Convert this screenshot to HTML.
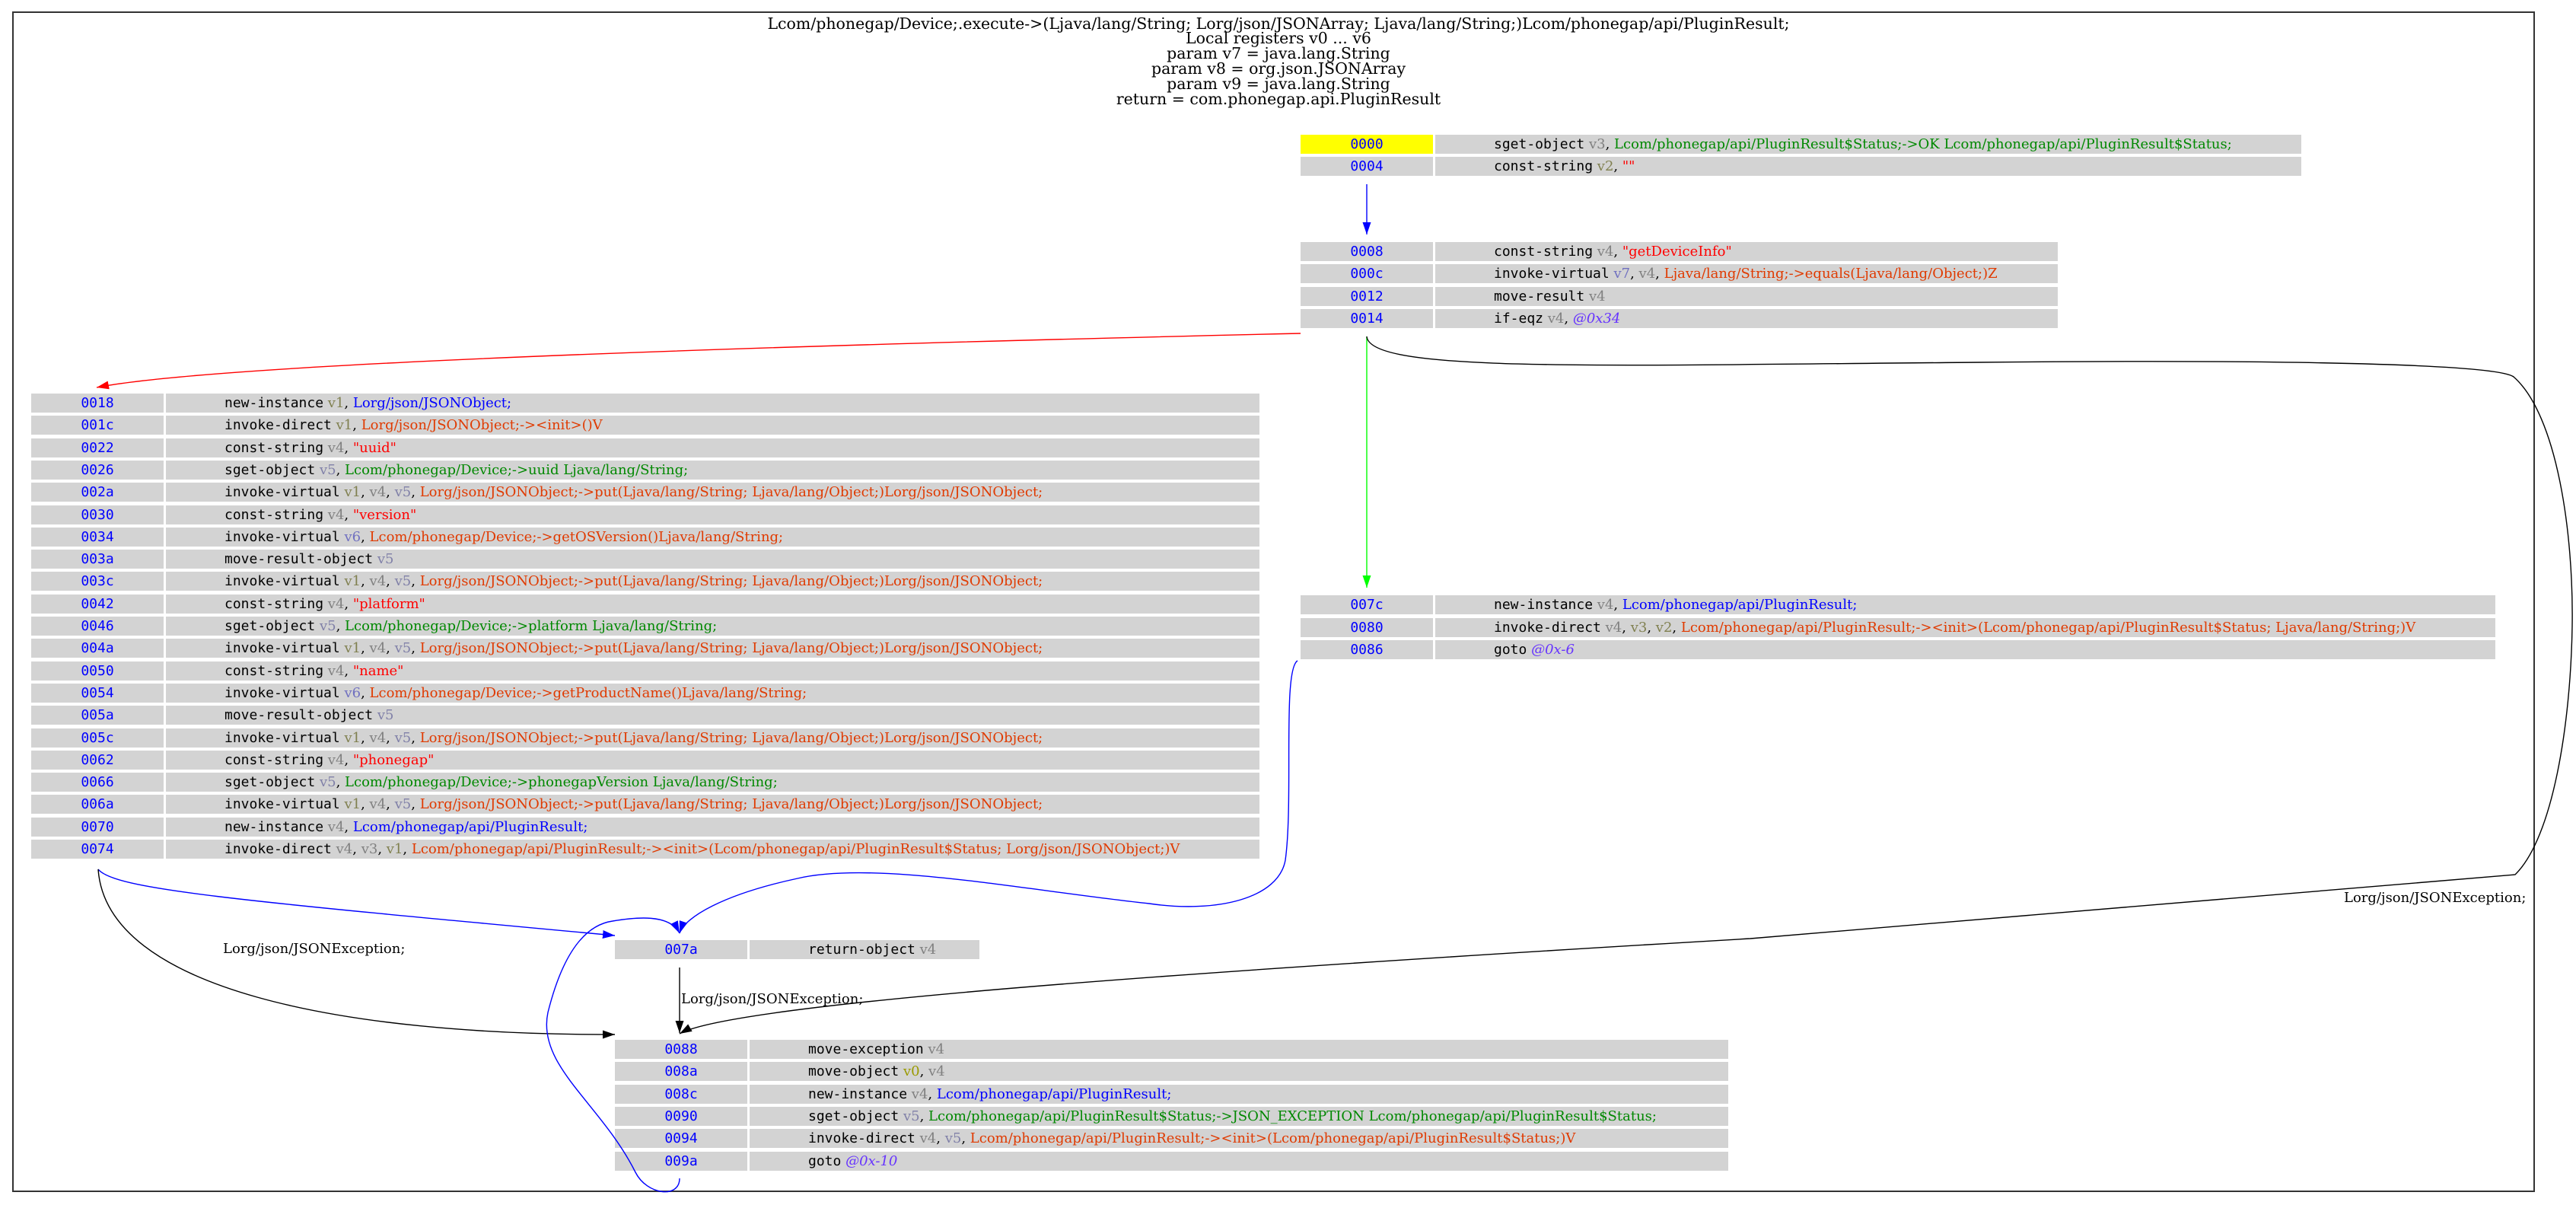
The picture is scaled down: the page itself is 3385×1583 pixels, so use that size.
<!DOCTYPE html>
<html><head><meta charset="utf-8"><style>
body{margin:0;width:3385px;height:1583px;background:#fff;position:relative;overflow:hidden}
.t{position:absolute;left:0;width:3360px;text-align:center;font:20.5px/20px "DejaVu Serif","Liberation Serif",serif;color:#000;white-space:nowrap}
.r{position:absolute;height:25px;font:18px/25px "DejaVu Serif",serif;white-space:nowrap}
.a{position:absolute;top:0;height:25px;width:174px;background:#d3d3d3;color:#00f;text-align:center;font-family:"DejaVu Sans Mono",monospace}
.c{position:absolute;top:0;height:25px;left:177px;background:#d3d3d3;padding-left:77px;box-sizing:border-box;overflow:hidden}
.m{font-family:"DejaVu Sans Mono",monospace;color:#000}
.g{color:#808080}.o{color:#808050}.y{color:#9a9a00}.s{color:#8080a8}.p{color:#7070c0}
.G{color:#008800}.O{color:#e03a00}.R{color:#ff0000}.B{color:#0000ff}.L{color:#6633ff;font-style:italic}
.lb{position:absolute;font:18px/20px "DejaVu Serif",serif;white-space:nowrap}
</style></head><body>
<div style="position:absolute;left:16px;top:15px;width:3315px;height:1551px;border:2px solid #333;box-sizing:border-box"></div>
<div class="t" style="top:21px">Lcom/phonegap/Device;.execute-&gt;(Ljava/lang/String; Lorg/json/JSONArray; Ljava/lang/String;)Lcom/phonegap/api/PluginResult;</div>
<div class="t" style="top:40px">Local registers v0 ... v6</div>
<div class="t" style="top:60px">param v7 = java.lang.String</div>
<div class="t" style="top:80px">param v8 = org.json.JSONArray</div>
<div class="t" style="top:100px">param v9 = java.lang.String</div>
<div class="t" style="top:120px">return = com.phonegap.api.PluginResult</div>

<!-- Block A -->
<div class="r" style="left:1709px;top:177px"><div class="a" style="background:#ff0">0000</div><div class="c" style="width:1138px"><span class="m">sget-object</span> <span class="g">v3</span>, <span class="G">Lcom/phonegap/api/PluginResult$Status;-&gt;OK Lcom/phonegap/api/PluginResult$Status;</span></div></div>
<div class="r" style="left:1709px;top:206px"><div class="a">0004</div><div class="c" style="width:1138px"><span class="m">const-string</span> <span class="o">v2</span>, <span class="R">""</span></div></div>

<!-- Block B -->
<div class="r" style="left:1709px;top:318px"><div class="a">0008</div><div class="c" style="width:818px"><span class="m">const-string</span> <span class="g">v4</span>, <span class="R">"getDeviceInfo"</span></div></div>
<div class="r" style="left:1709px;top:347px"><div class="a">000c</div><div class="c" style="width:818px"><span class="m">invoke-virtual</span> <span class="p">v7</span>, <span class="g">v4</span>, <span class="O">Ljava/lang/String;-&gt;equals(Ljava/lang/Object;)Z</span></div></div>
<div class="r" style="left:1709px;top:377px"><div class="a">0012</div><div class="c" style="width:818px"><span class="m">move-result</span> <span class="g">v4</span></div></div>
<div class="r" style="left:1709px;top:406px"><div class="a">0014</div><div class="c" style="width:818px"><span class="m">if-eqz</span> <span class="g">v4</span>, <span class="L">@0x34</span></div></div>

<!-- Block C -->
<div style="position:absolute;left:41px;top:517px">
<div class="r" style="top:0px"><div class="a">0018</div><div class="c" style="width:1437px"><span class="m">new-instance</span> <span class="o">v1</span>, <span class="B">Lorg/json/JSONObject;</span></div></div>
<div class="r" style="top:29.3px"><div class="a">001c</div><div class="c" style="width:1437px"><span class="m">invoke-direct</span> <span class="o">v1</span>, <span class="O">Lorg/json/JSONObject;-&gt;&lt;init&gt;()V</span></div></div>
<div class="r" style="top:58.6px"><div class="a">0022</div><div class="c" style="width:1437px"><span class="m">const-string</span> <span class="g">v4</span>, <span class="R">"uuid"</span></div></div>
<div class="r" style="top:87.9px"><div class="a">0026</div><div class="c" style="width:1437px"><span class="m">sget-object</span> <span class="s">v5</span>, <span class="G">Lcom/phonegap/Device;-&gt;uuid Ljava/lang/String;</span></div></div>
<div class="r" style="top:117.2px"><div class="a">002a</div><div class="c" style="width:1437px"><span class="m">invoke-virtual</span> <span class="o">v1</span>, <span class="g">v4</span>, <span class="s">v5</span>, <span class="O">Lorg/json/JSONObject;-&gt;put(Ljava/lang/String; Ljava/lang/Object;)Lorg/json/JSONObject;</span></div></div>
<div class="r" style="top:146.5px"><div class="a">0030</div><div class="c" style="width:1437px"><span class="m">const-string</span> <span class="g">v4</span>, <span class="R">"version"</span></div></div>
<div class="r" style="top:175.8px"><div class="a">0034</div><div class="c" style="width:1437px"><span class="m">invoke-virtual</span> <span class="p">v6</span>, <span class="O">Lcom/phonegap/Device;-&gt;getOSVersion()Ljava/lang/String;</span></div></div>
<div class="r" style="top:205.1px"><div class="a">003a</div><div class="c" style="width:1437px"><span class="m">move-result-object</span> <span class="s">v5</span></div></div>
<div class="r" style="top:234.4px"><div class="a">003c</div><div class="c" style="width:1437px"><span class="m">invoke-virtual</span> <span class="o">v1</span>, <span class="g">v4</span>, <span class="s">v5</span>, <span class="O">Lorg/json/JSONObject;-&gt;put(Ljava/lang/String; Ljava/lang/Object;)Lorg/json/JSONObject;</span></div></div>
<div class="r" style="top:263.7px"><div class="a">0042</div><div class="c" style="width:1437px"><span class="m">const-string</span> <span class="g">v4</span>, <span class="R">"platform"</span></div></div>
<div class="r" style="top:293px"><div class="a">0046</div><div class="c" style="width:1437px"><span class="m">sget-object</span> <span class="s">v5</span>, <span class="G">Lcom/phonegap/Device;-&gt;platform Ljava/lang/String;</span></div></div>
<div class="r" style="top:322.3px"><div class="a">004a</div><div class="c" style="width:1437px"><span class="m">invoke-virtual</span> <span class="o">v1</span>, <span class="g">v4</span>, <span class="s">v5</span>, <span class="O">Lorg/json/JSONObject;-&gt;put(Ljava/lang/String; Ljava/lang/Object;)Lorg/json/JSONObject;</span></div></div>
<div class="r" style="top:351.6px"><div class="a">0050</div><div class="c" style="width:1437px"><span class="m">const-string</span> <span class="g">v4</span>, <span class="R">"name"</span></div></div>
<div class="r" style="top:380.9px"><div class="a">0054</div><div class="c" style="width:1437px"><span class="m">invoke-virtual</span> <span class="p">v6</span>, <span class="O">Lcom/phonegap/Device;-&gt;getProductName()Ljava/lang/String;</span></div></div>
<div class="r" style="top:410.2px"><div class="a">005a</div><div class="c" style="width:1437px"><span class="m">move-result-object</span> <span class="s">v5</span></div></div>
<div class="r" style="top:439.5px"><div class="a">005c</div><div class="c" style="width:1437px"><span class="m">invoke-virtual</span> <span class="o">v1</span>, <span class="g">v4</span>, <span class="s">v5</span>, <span class="O">Lorg/json/JSONObject;-&gt;put(Ljava/lang/String; Ljava/lang/Object;)Lorg/json/JSONObject;</span></div></div>
<div class="r" style="top:468.8px"><div class="a">0062</div><div class="c" style="width:1437px"><span class="m">const-string</span> <span class="g">v4</span>, <span class="R">"phonegap"</span></div></div>
<div class="r" style="top:498.1px"><div class="a">0066</div><div class="c" style="width:1437px"><span class="m">sget-object</span> <span class="s">v5</span>, <span class="G">Lcom/phonegap/Device;-&gt;phonegapVersion Ljava/lang/String;</span></div></div>
<div class="r" style="top:527.4px"><div class="a">006a</div><div class="c" style="width:1437px"><span class="m">invoke-virtual</span> <span class="o">v1</span>, <span class="g">v4</span>, <span class="s">v5</span>, <span class="O">Lorg/json/JSONObject;-&gt;put(Ljava/lang/String; Ljava/lang/Object;)Lorg/json/JSONObject;</span></div></div>
<div class="r" style="top:556.7px"><div class="a">0070</div><div class="c" style="width:1437px"><span class="m">new-instance</span> <span class="g">v4</span>, <span class="B">Lcom/phonegap/api/PluginResult;</span></div></div>
<div class="r" style="top:586px"><div class="a">0074</div><div class="c" style="width:1437px"><span class="m">invoke-direct</span> <span class="g">v4</span>, <span class="g">v3</span>, <span class="o">v1</span>, <span class="O">Lcom/phonegap/api/PluginResult;-&gt;&lt;init&gt;(Lcom/phonegap/api/PluginResult$Status; Lorg/json/JSONObject;)V</span></div></div>
</div>

<!-- Block D -->
<div class="r" style="left:1709px;top:782px"><div class="a">007c</div><div class="c" style="width:1393px"><span class="m">new-instance</span> <span class="g">v4</span>, <span class="B">Lcom/phonegap/api/PluginResult;</span></div></div>
<div class="r" style="left:1709px;top:812px"><div class="a">0080</div><div class="c" style="width:1393px"><span class="m">invoke-direct</span> <span class="g">v4</span>, <span class="o">v3</span>, <span class="o">v2</span>, <span class="O">Lcom/phonegap/api/PluginResult;-&gt;&lt;init&gt;(Lcom/phonegap/api/PluginResult$Status; Ljava/lang/String;)V</span></div></div>
<div class="r" style="left:1709px;top:841px"><div class="a">0086</div><div class="c" style="width:1393px"><span class="m">goto</span> <span class="L">@0x-6</span></div></div>

<!-- Block E -->
<div class="r" style="left:808px;top:1235px"><div class="a">007a</div><div class="c" style="width:302px"><span class="m">return-object</span> <span class="g">v4</span></div></div>

<!-- Block F -->
<div style="position:absolute;left:808px;top:1366px">
<div class="r" style="top:0px"><div class="a">0088</div><div class="c" style="width:1286px"><span class="m">move-exception</span> <span class="g">v4</span></div></div>
<div class="r" style="top:29.3px"><div class="a">008a</div><div class="c" style="width:1286px"><span class="m">move-object</span> <span class="y">v0</span>, <span class="g">v4</span></div></div>
<div class="r" style="top:58.6px"><div class="a">008c</div><div class="c" style="width:1286px"><span class="m">new-instance</span> <span class="g">v4</span>, <span class="B">Lcom/phonegap/api/PluginResult;</span></div></div>
<div class="r" style="top:87.9px"><div class="a">0090</div><div class="c" style="width:1286px"><span class="m">sget-object</span> <span class="s">v5</span>, <span class="G">Lcom/phonegap/api/PluginResult$Status;-&gt;JSON_EXCEPTION Lcom/phonegap/api/PluginResult$Status;</span></div></div>
<div class="r" style="top:117.2px"><div class="a">0094</div><div class="c" style="width:1286px"><span class="m">invoke-direct</span> <span class="g">v4</span>, <span class="s">v5</span>, <span class="O">Lcom/phonegap/api/PluginResult;-&gt;&lt;init&gt;(Lcom/phonegap/api/PluginResult$Status;)V</span></div></div>
<div class="r" style="top:146.5px"><div class="a">009a</div><div class="c" style="width:1286px"><span class="m">goto</span> <span class="L">@0x-10</span></div></div>
</div>

<div class="lb" style="left:293px;top:1237px">Lorg/json/JSONException;</div>
<div class="lb" style="left:895px;top:1303px">Lorg/json/JSONException;</div>
<div class="lb" style="left:3080px;top:1170px">Lorg/json/JSONException;</div>

<svg width="3385" height="1583" style="position:absolute;left:0;top:0" fill="none" stroke-width="1.4">
<defs>
<marker id="mb" markerUnits="userSpaceOnUse" markerWidth="18" markerHeight="12" refX="16" refY="5.5" orient="auto"><path d="M0,0 L16,5.5 L0,11z" fill="#00f"/></marker>
<marker id="mr" markerUnits="userSpaceOnUse" markerWidth="18" markerHeight="12" refX="16" refY="5.5" orient="auto"><path d="M0,0 L16,5.5 L0,11z" fill="#f00"/></marker>
<marker id="mg" markerUnits="userSpaceOnUse" markerWidth="18" markerHeight="12" refX="16" refY="5.5" orient="auto"><path d="M0,0 L16,5.5 L0,11z" fill="#0f0"/></marker>
<marker id="mk" markerUnits="userSpaceOnUse" markerWidth="18" markerHeight="12" refX="16" refY="5.5" orient="auto"><path d="M0,0 L16,5.5 L0,11z" fill="#000"/></marker>
</defs>
<path d="M1796,242 L1796,308" stroke="#00f" marker-end="url(#mb)"/>
<path d="M1709,438 C1100,452 300,475 127,509" stroke="#f00" marker-end="url(#mr)"/>
<path d="M1796,442 L1796,772" stroke="#0f0" marker-end="url(#mg)"/>
<path d="M1796,442 C1800,490 2100,480 2600,476 C3000,472 3280,478 3303,495 C3360,545 3382,700 3380,823 C3378,950 3355,1100 3305,1149 L2300,1233 C1500,1280 960,1320 893,1358" stroke="#000" marker-end="url(#mk)"/>
<path d="M1705,868 C1685,880 1700,1050 1689,1130 C1680,1180 1600,1200 1510,1187 C1350,1170 1150,1130 1048,1154 C950,1175 900,1205 893,1226" stroke="#00f" marker-end="url(#mb)"/>
<path d="M129,1142 C150,1168 300,1182 808,1229" stroke="#00f" marker-end="url(#mb)"/>
<path d="M129,1142 C140,1300 450,1360 808,1359" stroke="#000" marker-end="url(#mk)"/>
<path d="M893,1271 L893,1357" stroke="#000" marker-end="url(#mk)"/>
<path d="M893,1548 C893,1575 850,1570 835,1540 C790,1450 705,1400 720,1330 C740,1250 770,1215 805,1210 C835,1205 880,1200 893,1226" stroke="#00f" marker-end="url(#mb)"/>
</svg>
</body></html>
